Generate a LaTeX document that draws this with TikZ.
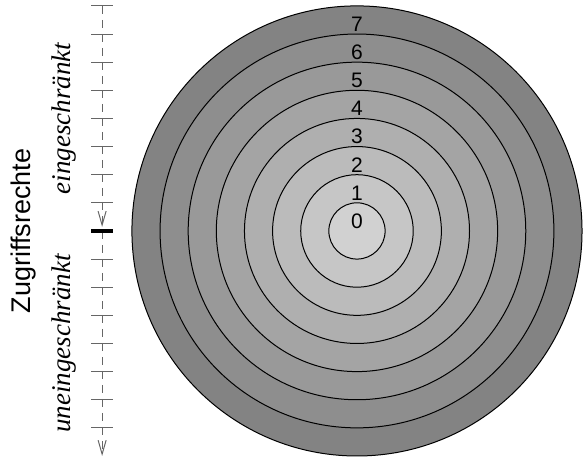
\documentclass[tikz,border=0pt]{standalone}
\usepackage{fontspec}
\setmainfont{Liberation Serif}
\setsansfont{Liberation Sans}
\usepackage{tikz}
\usetikzlibrary{arrows.meta, calc}

\begin{document}
\begin{tikzpicture}[
  x=14.07pt, y=14.07pt,
  every node/.style={font=\sffamily\fontsize{10.5}{12}\selectfont, inner sep=0pt},
  ring/.style={draw=black, line width=0.5pt},
  tickmark/.style={draw=black!60, line width=0.5pt},
  axis/.style={draw=black!60, line width=0.5pt, dash pattern=on 4pt off 3pt},
  arr/.style={-{Straight Barb[length=7pt, width=4pt]}},
  title/.style={font=\sffamily\fontsize{13.5}{16}\selectfont, rotate=90},
  side/.style={font=\itshape\fontsize{13.5}{16}\selectfont, rotate=90},
]
  \useasboundingbox (-12.69, -8.10) rectangle (8.07, 8.21);

  % rings, from the outside in
  \foreach \k in {7,...,0} {
    \pgfmathsetmacro\shade{18+4.4*\k}
    \filldraw[ring, fill=black!\shade] (0,0) circle [radius=\k+1];
  }
  \foreach \k in {0,...,7}
    \node (r\k) at (0, \k+0.35) {\k};

  % access axis
  \coordinate (top) at (-9.06, 8);
  \coordinate (mid) at (-9.06, 0);
  \coordinate (bot) at (-9.06, -8);

  \draw[axis, arr] (top) -- ([yshift=2pt]mid);
  \draw[axis, arr] (mid) -- (bot);
  \foreach \t in {-7,...,-1,1,2,...,8}
    \draw[tickmark] ([shift={(-0.39,\t)}]mid) -- ([shift={(0.39,\t)}]mid);
  \draw[line width=2pt] ([shift={(-0.39,0)}]mid) -- ([shift={(0.39,0)}]mid);

  \node[title] (zr) at (-11.87, 0) {Zugriffsrechte};
  \node[side] (hi) at (-10.41, 4) {eingeschränkt};
  \node[side] (lo) at (-10.41, -4) {uneingeschränkt};
\end{tikzpicture}
\end{document}
